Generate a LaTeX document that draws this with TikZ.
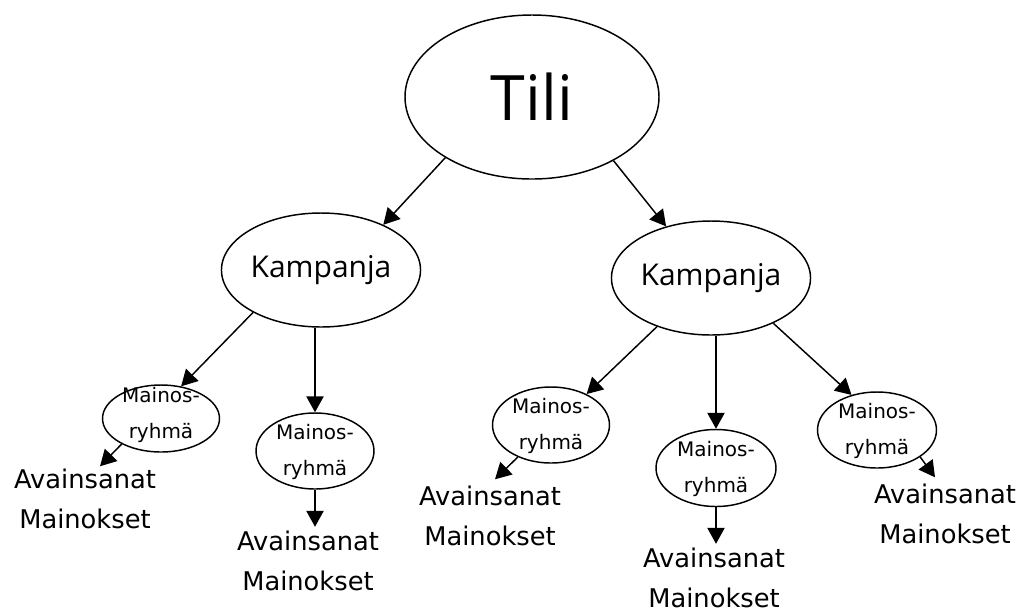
\documentclass[tikz,border=0pt]{standalone}
\usepackage{fontspec}
\setmainfont{Open Sans}
\newfontfamily\labfont{DejaVu Sans}
\usetikzlibrary{arrows.meta,calc,shapes.geometric}
\begin{document}
\begin{tikzpicture}[x=0.75pt,y=-0.75pt,
  ell/.style={ellipse,draw,line width=1.1pt,inner sep=0pt},
  arr/.style={line width=1.1pt,-{Triangle[length=12pt,width=13pt]}},
  lab/.style={align=center,inner sep=0pt,font=\labfont\fontsize{19.3}{30}\selectfont},
  mgt/.style={align=center,inner sep=0pt,font=\labfont\fontsize{15}{27}\selectfont},
  kamp/.style={ell,minimum height=85.5pt,font=\fontsize{22.5}{26}\selectfont},
  mg/.style={ell,minimum width=88.5pt,minimum height=57pt}]
\useasboundingbox (0,0) rectangle (1022,612);
% ellipses
\node[ell,minimum width=190.5pt,minimum height=123pt,font=\fontsize{47}{50}\selectfont] (tili) at (532,97) {Tili};
\node[kamp,minimum width=138pt] (k1) at (321,270) {Kampanja};
\node[kamp,minimum width=133.5pt] (k2) at (711,278) {Kampanja};
\node[mg,minimum width=87.75pt,minimum height=50.25pt] (mg1) at (161,418.5) {};
\node[mg] (mg2) at (315,451) {};
\node[mg,minimum width=87.75pt] (mg3) at (551,425) {};
\node[mg,minimum width=90pt,minimum height=57.75pt] (mg4) at (716,468) {};
\node[mg,minimum width=89.25pt] (mg5) at (877,430) {};
% ellipse texts
\node[mgt] (mg1t) at (161,415) {Mainos-\\ryhmä};
\node[mgt] (mg2t) at (315,452) {Mainos-\\ryhmä};
\node[mgt] (mg3t) at (551,426) {Mainos-\\ryhmä};
\node[mgt] (mg4t) at (716,469) {Mainos-\\ryhmä};
\node[mgt] (mg5t) at (877,431) {Mainos-\\ryhmä};
% labels
\node[lab] (l1) at (85,498.5) {Avainsanat\\Mainokset};
\node[lab] (l2) at (308,561) {Avainsanat\\Mainokset};
\node[lab] (l3) at (490,515.5) {Avainsanat\\Mainokset};
\node[lab] (l4) at (714,578) {Avainsanat\\Mainokset};
\node[lab] (l5) at (945,513.5) {Avainsanat\\Mainokset};
% connectors
\draw[arr] (tili.215) -- (k1.36);
\draw[arr] (tili.-38) -- (k2.131);
\draw[arr] (k1.212) -- (mg1.58);
\draw[arr] (k1.south -| mg2.north) -- (mg2.north);
\draw[arr] (k2.222) -- (mg3.41);
\draw[arr] (k2.south -| mg4.north) -- (mg4.north);
\draw[arr] (k2.-36) -- (mg5.126);
\draw[arr] (mg1.213) -- ($(l1.north)+(15,-2)$);
\draw[arr] (mg2.south) -- ($(l2.north)+(7,-4)$);
\draw[arr] (mg3.224) -- ($(l3.north)+(5,-6)$);
\draw[arr] (mg4.south) -- ($(l4.north)+(2,-4)$);
\draw[arr] (mg5.-32) -- ($(l5.north)+(-10,-6)$);
\end{tikzpicture}
\end{document}
